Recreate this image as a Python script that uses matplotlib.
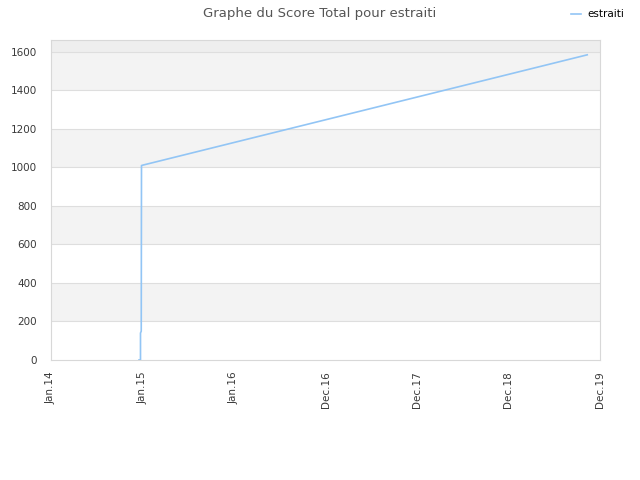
import numpy as np
import pandas as pd
import matplotlib
matplotlib.use('Agg')
import matplotlib.pyplot as plt
import matplotlib.dates as mdates

# score data for estraiti
dates = pd.to_datetime(['2014-12-18', '2014-12-24', '2014-12-24', '2014-12-27',
                        '2014-12-28', '2015-01-02', '2019-11-10'])
scores = [0, 0, 140, 150, 1010, 1012, 1585]

tick_dates = pd.to_datetime(['2014-01-01', '2015-01-01', '2016-01-01', '2016-12-31',
                             '2017-12-31', '2018-12-31', '2019-12-31'])
tick_labels = ['Jan.14', 'Jan.15', 'Jan.16', 'Dec.16', 'Dec.17', 'Dec.18', 'Dec.19']
y_ticks = [0, 200, 400, 600, 800, 1000, 1200, 1400, 1600]

fig = plt.figure(figsize=(6.4, 4.8), dpi=100)
ax = fig.add_axes([51/640, 1-360/480, 549/640, 320/480])

ymax = 1662
# alternating bands
for lo in [200, 600, 1000, 1400]:
    ax.axhspan(lo, lo+200, color='#f3f3f3', zorder=0, lw=0)
ax.axhspan(1600, ymax, color='#eeeeee', zorder=0, lw=0)
for y in y_ticks[1:]:
    ax.axhline(y, color='#dedede', lw=0.8, zorder=1)

ax.plot(dates, scores, color='#92c5f5', lw=1.2, label='estraiti', zorder=3)

ax.set_xlim(tick_dates[0], tick_dates[-1])
ax.set_ylim(0, ymax)
ax.set_xticks(tick_dates)
ax.set_xticklabels(tick_labels, rotation=90)
ax.set_yticks(y_ticks)
ax.tick_params(length=0, labelsize=7.5, colors='#3a3a3a', pad=8)
ax.tick_params(axis='y', pad=10)
for s in ax.spines.values():
    s.set_color('#d8d8d8')

fig.suptitle('Graphe du Score Total pour estraiti', x=0.5, y=0.985, fontsize=9.5, color='#555555')
fig.legend(loc='upper right', bbox_to_anchor=(0.99, 1.0), frameon=False, fontsize=7.5,
           handlelength=1.0, handletextpad=0.6)

fig.savefig('out.png', dpi=100)
